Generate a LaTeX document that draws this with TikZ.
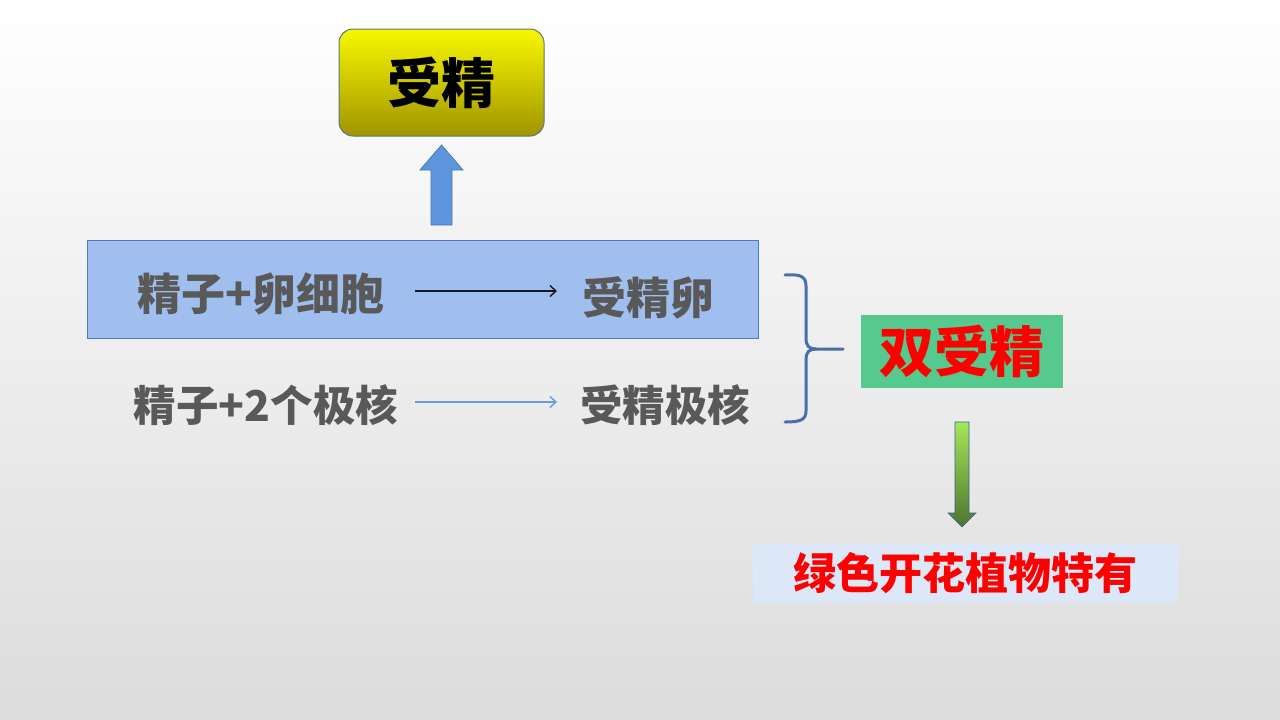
\documentclass[tikz,border=0pt]{standalone}
\usepackage{fontspec}
\newfontfamily\cjk{Noto Sans CJK SC}
\usetikzlibrary{arrows.meta}
\definecolor{txtgray}{HTML}{595959}
\definecolor{boxblue}{HTML}{A0BFEE}
\definecolor{boxblueline}{HTML}{4F78BE}
\definecolor{arrowblue}{HTML}{5E96DE}
\definecolor{arrowblueline}{HTML}{4A78B8}
\definecolor{thinblue}{HTML}{6A9AE0}
\definecolor{bracecol}{HTML}{4A6FA8}
\definecolor{dsgreen}{HTML}{55C98E}
\definecolor{bottombox}{HTML}{DCE8F8}
\definecolor{yeltop}{HTML}{F8F800}
\definecolor{yelbot}{HTML}{A09400}
\definecolor{yelline}{HTML}{5B7587}
\definecolor{grtop}{HTML}{A6E65A}
\definecolor{grbot}{HTML}{4C7530}
\definecolor{bgbot}{HTML}{DCDCDC}
\tikzset{
  lbl/.style={font=\cjk\bfseries\fontsize{44}{52}\selectfont, text=txtgray, inner sep=0pt},
  lbltwo/.style={font=\cjk\bfseries\fontsize{42.5}{50}\selectfont, text=txtgray, inner sep=0pt},
  thinarrow/.style={line width=1.6pt, -{Straight Barb[length=6pt,width=11pt,line width=1.4pt]}},
}
\begin{document}
\begin{tikzpicture}[x=1pt,y=-1pt]
\useasboundingbox (0,0) rectangle (1280,720);
\shade[top color=white, bottom color=bgbot] (0,0) rectangle (1280,720);

% top yellow box
\node[draw=yelline, line width=1pt, rounded corners=14pt, top color=yeltop, bottom color=yelbot,
      minimum width=205pt, minimum height=107pt, inner sep=0pt,
      font=\cjk\bfseries\fontsize{54}{62}\selectfont, text=black] (fert) at (441.5,82.5) {受精};

% blue up block arrow
\draw[fill=arrowblue, draw=arrowblueline, line width=0.8pt]
  (431,225) -- (431,170) -- (420,170) -- (441.5,145) -- (463,170) -- (452,170) -- (452,225) -- cycle;

% blue rectangle
\node[draw=boxblueline, fill=boxblue, line width=1pt, minimum width=671pt, minimum height=98pt, inner sep=0pt] (row1) at (422.5,289) {};

\node[lbl] (a1) at (261,294) {精子+卵细胞};
\node[lbl] (b1) at (648,298) {受精卵};
\node[lbltwo] (a2) at (266,405) {精子+2个极核};
\node[lbltwo] (b2) at (665,405) {受精极核};

\coordinate (a1e) at (415,291);
\coordinate (b1w) at (557,291);
\coordinate (a2e) at (415,402);
\coordinate (b2w) at (557,402);
\draw[thinarrow, draw=black!90] (a1e) -- (b1w);
\draw[thinarrow, draw=thinblue] (a2e) -- (b2w);

% brace
\draw[bracecol, line width=3pt, line cap=round]
  (785,275) .. controls (800,274) and (806,276) .. (806,286) -- (806,338)
  .. controls (806,346) and (809,349) .. (816,349) -- (843,349);
\draw[bracecol, line width=3pt, line cap=round]
  (816,349) .. controls (809,349) and (806,352) .. (806,360) -- (806,411)
  .. controls (806,420) and (800,422) .. (785,422);

% double fertilization box
\node[fill=dsgreen, minimum width=202pt, minimum height=73pt, inner sep=0pt,
      font=\cjk\bfseries\fontsize{55}{63}\selectfont, text=red] (dbl) at (962,351.5) {双受精};

% green down arrow
\shade[top color=grtop, bottom color=grbot]
  (955,422) -- (955,513) -- (948,513) -- (962,527) -- (976,513) -- (969,513) -- (969,422) -- cycle;
\draw[draw=arrowblueline!80!black, line width=0.6pt]
  (955,422) -- (955,513) -- (948,513) -- (962,527) -- (976,513) -- (969,513) -- (969,422) -- cycle;

% bottom box
\node[fill=bottombox, minimum width=425pt, minimum height=59pt, inner sep=0pt,
      font=\cjk\bfseries\fontsize{43}{51}\selectfont, text=red] (only) at (965.5,573.5) {绿色开花植物特有};
\end{tikzpicture}
\end{document}
